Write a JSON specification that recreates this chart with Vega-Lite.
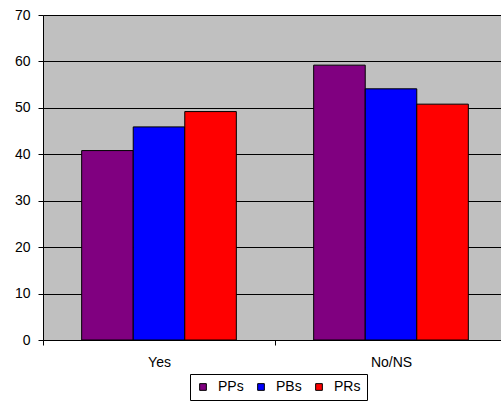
{
  "$schema": "https://vega.github.io/schema/vega-lite/v6.json",
  "autosize": "none",
  "width": 464,
  "height": 325,
  "padding": {"left": 43, "top": 15, "right": 0, "bottom": 63},
  "background": "white",
  "config": {
    "font": "Liberation Sans",
    "view": {"fill": "#C0C0C0", "stroke": null}
  },
  "data": {
    "values": [
      {"answer": "Yes", "group": "PPs", "value": 40.8},
      {"answer": "Yes", "group": "PBs", "value": 45.9},
      {"answer": "Yes", "group": "PRs", "value": 49.2},
      {"answer": "No/NS", "group": "PPs", "value": 59.2},
      {"answer": "No/NS", "group": "PBs", "value": 54.1},
      {"answer": "No/NS", "group": "PRs", "value": 50.8}
    ]
  },
  "mark": {"type": "bar", "stroke": "black", "strokeWidth": 1},
  "encoding": {
    "x": {
      "field": "answer",
      "type": "nominal",
      "sort": ["Yes", "No/NS"],
      "scale": {"paddingInner": 0, "paddingOuter": 0},
      "axis": {
        "title": null,
        "labelAngle": 0,
        "labelFontSize": 14,
        "labelColor": "black",
        "labelPadding": 10,
        "tickBand": "extent",
        "tickColor": "black",
        "tickSize": 5,
        "domainColor": "black",
        "grid": false
      }
    },
    "xOffset": {
      "field": "group",
      "type": "nominal",
      "sort": ["PPs", "PBs", "PRs"],
      "scale": {"paddingInner": 0, "paddingOuter": 0.75}
    },
    "y": {
      "field": "value",
      "type": "quantitative",
      "scale": {"domain": [0, 70], "nice": false},
      "axis": {
        "title": null,
        "values": [0, 10, 20, 30, 40, 50, 60, 70],
        "labelFontSize": 14,
        "labelColor": "black",
        "labelPadding": 8,
        "tickColor": "black",
        "tickSize": 5,
        "domainColor": "black",
        "grid": true,
        "gridColor": "black",
        "gridOpacity": 1
      }
    },
    "color": {
      "field": "group",
      "type": "nominal",
      "sort": ["PPs", "PBs", "PRs"],
      "scale": {"domain": ["PPs", "PBs", "PRs"], "range": ["#800080", "#0000FF", "#FF0000"]},
      "legend": {
        "title": null,
        "orient": "none",
        "direction": "horizontal",
        "legendX": 147,
        "legendY": 359,
        "padding": 6,
        "strokeColor": "black",
        "fillColor": "white",
        "symbolType": "square",
        "symbolSize": 45,
        "symbolStrokeColor": "black",
        "symbolStrokeWidth": 1,
        "symbolOpacity": 1,
        "labelFontSize": 14,
        "labelColor": "black",
        "columnPadding": 10,
        "labelOffset": 8
      }
    }
  }
}
